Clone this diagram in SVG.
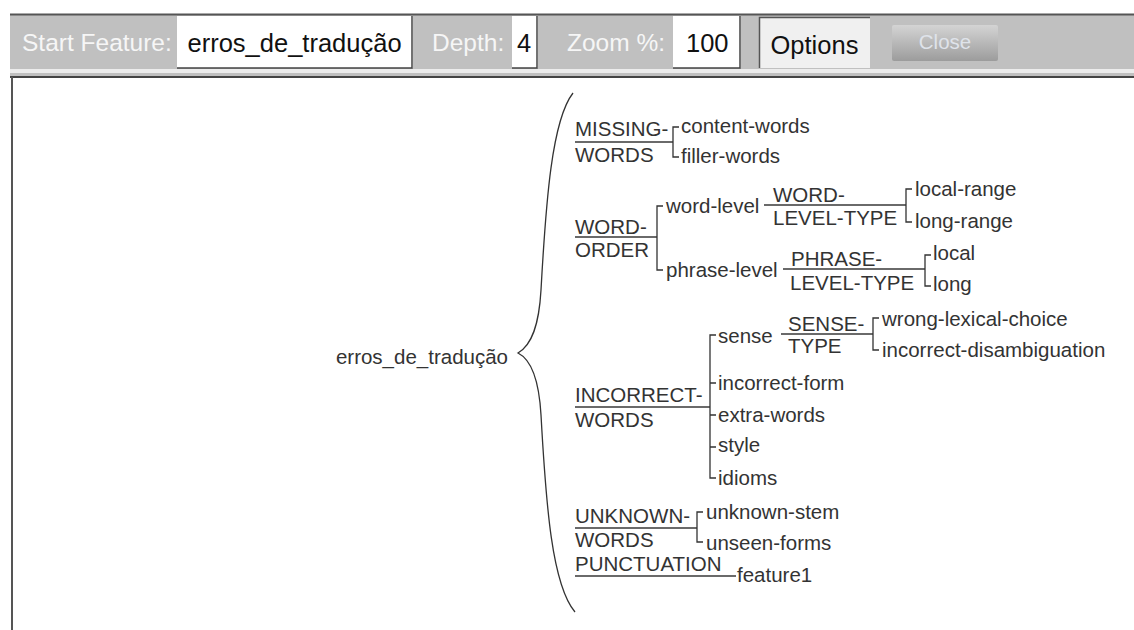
<svg xmlns="http://www.w3.org/2000/svg" width="1134" height="630" viewBox="0 0 1134 630">
  <defs>
    <linearGradient id="btnGrad" x1="0" y1="0" x2="0" y2="1">
      <stop offset="0" stop-color="#d4d4d4"/>
      <stop offset="1" stop-color="#9c9c9c"/>
    </linearGradient>
  </defs>
  <style>
    .bar { font-family: "Liberation Sans", Arial, sans-serif; }
    .lbl { fill: #f6f6f6; font-size: 24.5px; }
    .val { fill: #111; font-size: 25.5px; }
    .field { fill: #fff; }
    .sunk { fill: none; stroke: #444; stroke-width: 1.5; }
    .t { font-family: "Liberation Sans", Arial, sans-serif; font-size: 20.5px; fill: #333; }
    .ul { fill: none; stroke: #6a6a6a; stroke-width: 2; }
    .br { fill: none; stroke: #333; stroke-width: 1.3; }
    .brace { fill: none; stroke: #333; stroke-width: 1.3; }
  </style>

  <rect width="1134" height="630" fill="#fff"/>

  <!-- toolbar -->
  <g id="toolbar">
    <rect x="10" y="14" width="1124" height="62" fill="#c0c0c0"/>
    <line x1="10" y1="14.5" x2="1134" y2="14.5" stroke="#555" stroke-width="2"/>
    <rect x="10" y="69" width="1124" height="4" fill="#ececec"/>
    <rect x="10" y="76" width="1124" height="2" fill="#444"/>

    <text class="bar lbl" x="22" y="51">Start Feature:</text>
    <rect class="field" x="177" y="16" width="236" height="52"/>
    <path class="sunk" d="M412,16 V68 H177"/>
    <text class="bar val" x="187.5" y="52">erros_de_tradução</text>

    <text class="bar lbl" x="432" y="51">Depth:</text>
    <rect class="field" x="512" y="16" width="26" height="52"/>
    <path class="sunk" d="M537,16 V68 H512"/>
    <text class="bar val" x="517" y="52">4</text>

    <text class="bar lbl" x="567" y="51">Zoom %:</text>
    <rect class="field" x="673" y="16" width="68" height="52"/>
    <path class="sunk" d="M740,16 V68 H673"/>
    <text class="bar val" x="686" y="52">100</text>

    <rect x="759" y="17" width="111" height="51" fill="#f0f0f0"/>
    <path d="M759.5,68 V17.5 H870" fill="none" stroke="#555" stroke-width="1.5"/>
    <text class="bar val" x="770.5" y="54">Options</text>

    <rect x="892" y="25" width="106" height="36" rx="2" fill="url(#btnGrad)"/>
    <text x="945" y="49" text-anchor="middle" font-family="Liberation Sans, Arial, sans-serif" font-size="20.5" fill="#dfe3ea">Close</text>
  </g>

  <!-- panel frame -->
  <rect x="11" y="77" width="2" height="553" fill="#555"/>

  <!-- connectors -->
  <g id="connectors">
    <path class="brace" d="M573,93 C552,120 546,200 541,290 C539,325 532,345 518,353 C532,360 539,380 541,415 C546,505 552,585 575,612"/>

    <!-- MISSING-WORDS -->
    <path class="ul" d="M575,142 H673"/>
    <path class="br" d="M679,127 H673 V157 H679"/>

    <!-- WORD-ORDER -->
    <path class="ul" d="M575,237 H657"/>
    <path class="br" d="M663,206 H657 V270 H663"/>
    <path class="ul" d="M764,205 H906"/>
    <path class="br" d="M912,189 H906 V222 H912"/>
    <path class="ul" d="M783,269 H925"/>
    <path class="br" d="M931,255 H925 V286 H931"/>

    <!-- INCORRECT-WORDS -->
    <path class="ul" d="M575,407 H710"/>
    <path class="br" d="M716,335 H710 V478 H716 M710,383 H716 M710,415 H716 M710,447 H716"/>
    <path class="ul" d="M781,334 H873"/>
    <path class="br" d="M879,318 H873 V350 H879"/>

    <!-- UNKNOWN-WORDS -->
    <path class="ul" d="M575,528 H697"/>
    <path class="br" d="M703,512 H697 V542 H703"/>

    <!-- PUNCTUATION -->
    <path class="ul" d="M575,576 H736"/>
  </g>

  <!-- nodes -->
  <g id="root">
    <text class="t" x="508" y="364" text-anchor="end">erros_de_tradução</text>
  </g>

  <g id="missing-words">
    <text class="t" x="575" y="136">MISSING-</text>
    <text class="t" x="575" y="162">WORDS</text>
  </g>
  <g id="content-words"><text class="t" x="681" y="133">content-words</text></g>
  <g id="filler-words"><text class="t" x="681" y="163">filler-words</text></g>

  <g id="word-order">
    <text class="t" x="575" y="234">WORD-</text>
    <text class="t" x="575" y="257">ORDER</text>
  </g>
  <g id="word-level"><text class="t" x="666" y="213">word-level</text></g>
  <g id="word-level-type">
    <text class="t" x="773" y="202">WORD-</text>
    <text class="t" x="773" y="225">LEVEL-TYPE</text>
  </g>
  <g id="local-range"><text class="t" x="915" y="196">local-range</text></g>
  <g id="long-range"><text class="t" x="915" y="228">long-range</text></g>
  <g id="phrase-level"><text class="t" x="666" y="277">phrase-level</text></g>
  <g id="phrase-level-type">
    <text class="t" x="791" y="266">PHRASE-</text>
    <text class="t" x="790" y="290">LEVEL-TYPE</text>
  </g>
  <g id="local"><text class="t" x="933" y="260">local</text></g>
  <g id="long"><text class="t" x="933" y="291">long</text></g>

  <g id="incorrect-words">
    <text class="t" x="575" y="402">INCORRECT-</text>
    <text class="t" x="575" y="427">WORDS</text>
  </g>
  <g id="sense"><text class="t" x="718" y="343">sense</text></g>
  <g id="sense-type">
    <text class="t" x="788" y="331">SENSE-</text>
    <text class="t" x="788" y="353">TYPE</text>
  </g>
  <g id="wrong-lexical-choice"><text class="t" x="882" y="326">wrong-lexical-choice</text></g>
  <g id="incorrect-disambiguation"><text class="t" x="882" y="357">incorrect-disambiguation</text></g>
  <g id="incorrect-form"><text class="t" x="718" y="390">incorrect-form</text></g>
  <g id="extra-words"><text class="t" x="718" y="422">extra-words</text></g>
  <g id="style"><text class="t" x="718" y="452">style</text></g>
  <g id="idioms"><text class="t" x="718" y="485">idioms</text></g>

  <g id="unknown-words">
    <text class="t" x="575" y="523">UNKNOWN-</text>
    <text class="t" x="575" y="547">WORDS</text>
  </g>
  <g id="unknown-stem"><text class="t" x="706" y="519">unknown-stem</text></g>
  <g id="unseen-forms"><text class="t" x="706" y="550">unseen-forms</text></g>

  <g id="punctuation">
    <text class="t" x="575" y="571">PUNCTUATION</text>
  </g>
  <g id="feature1"><text class="t" x="737" y="582">feature1</text></g>
</svg>
